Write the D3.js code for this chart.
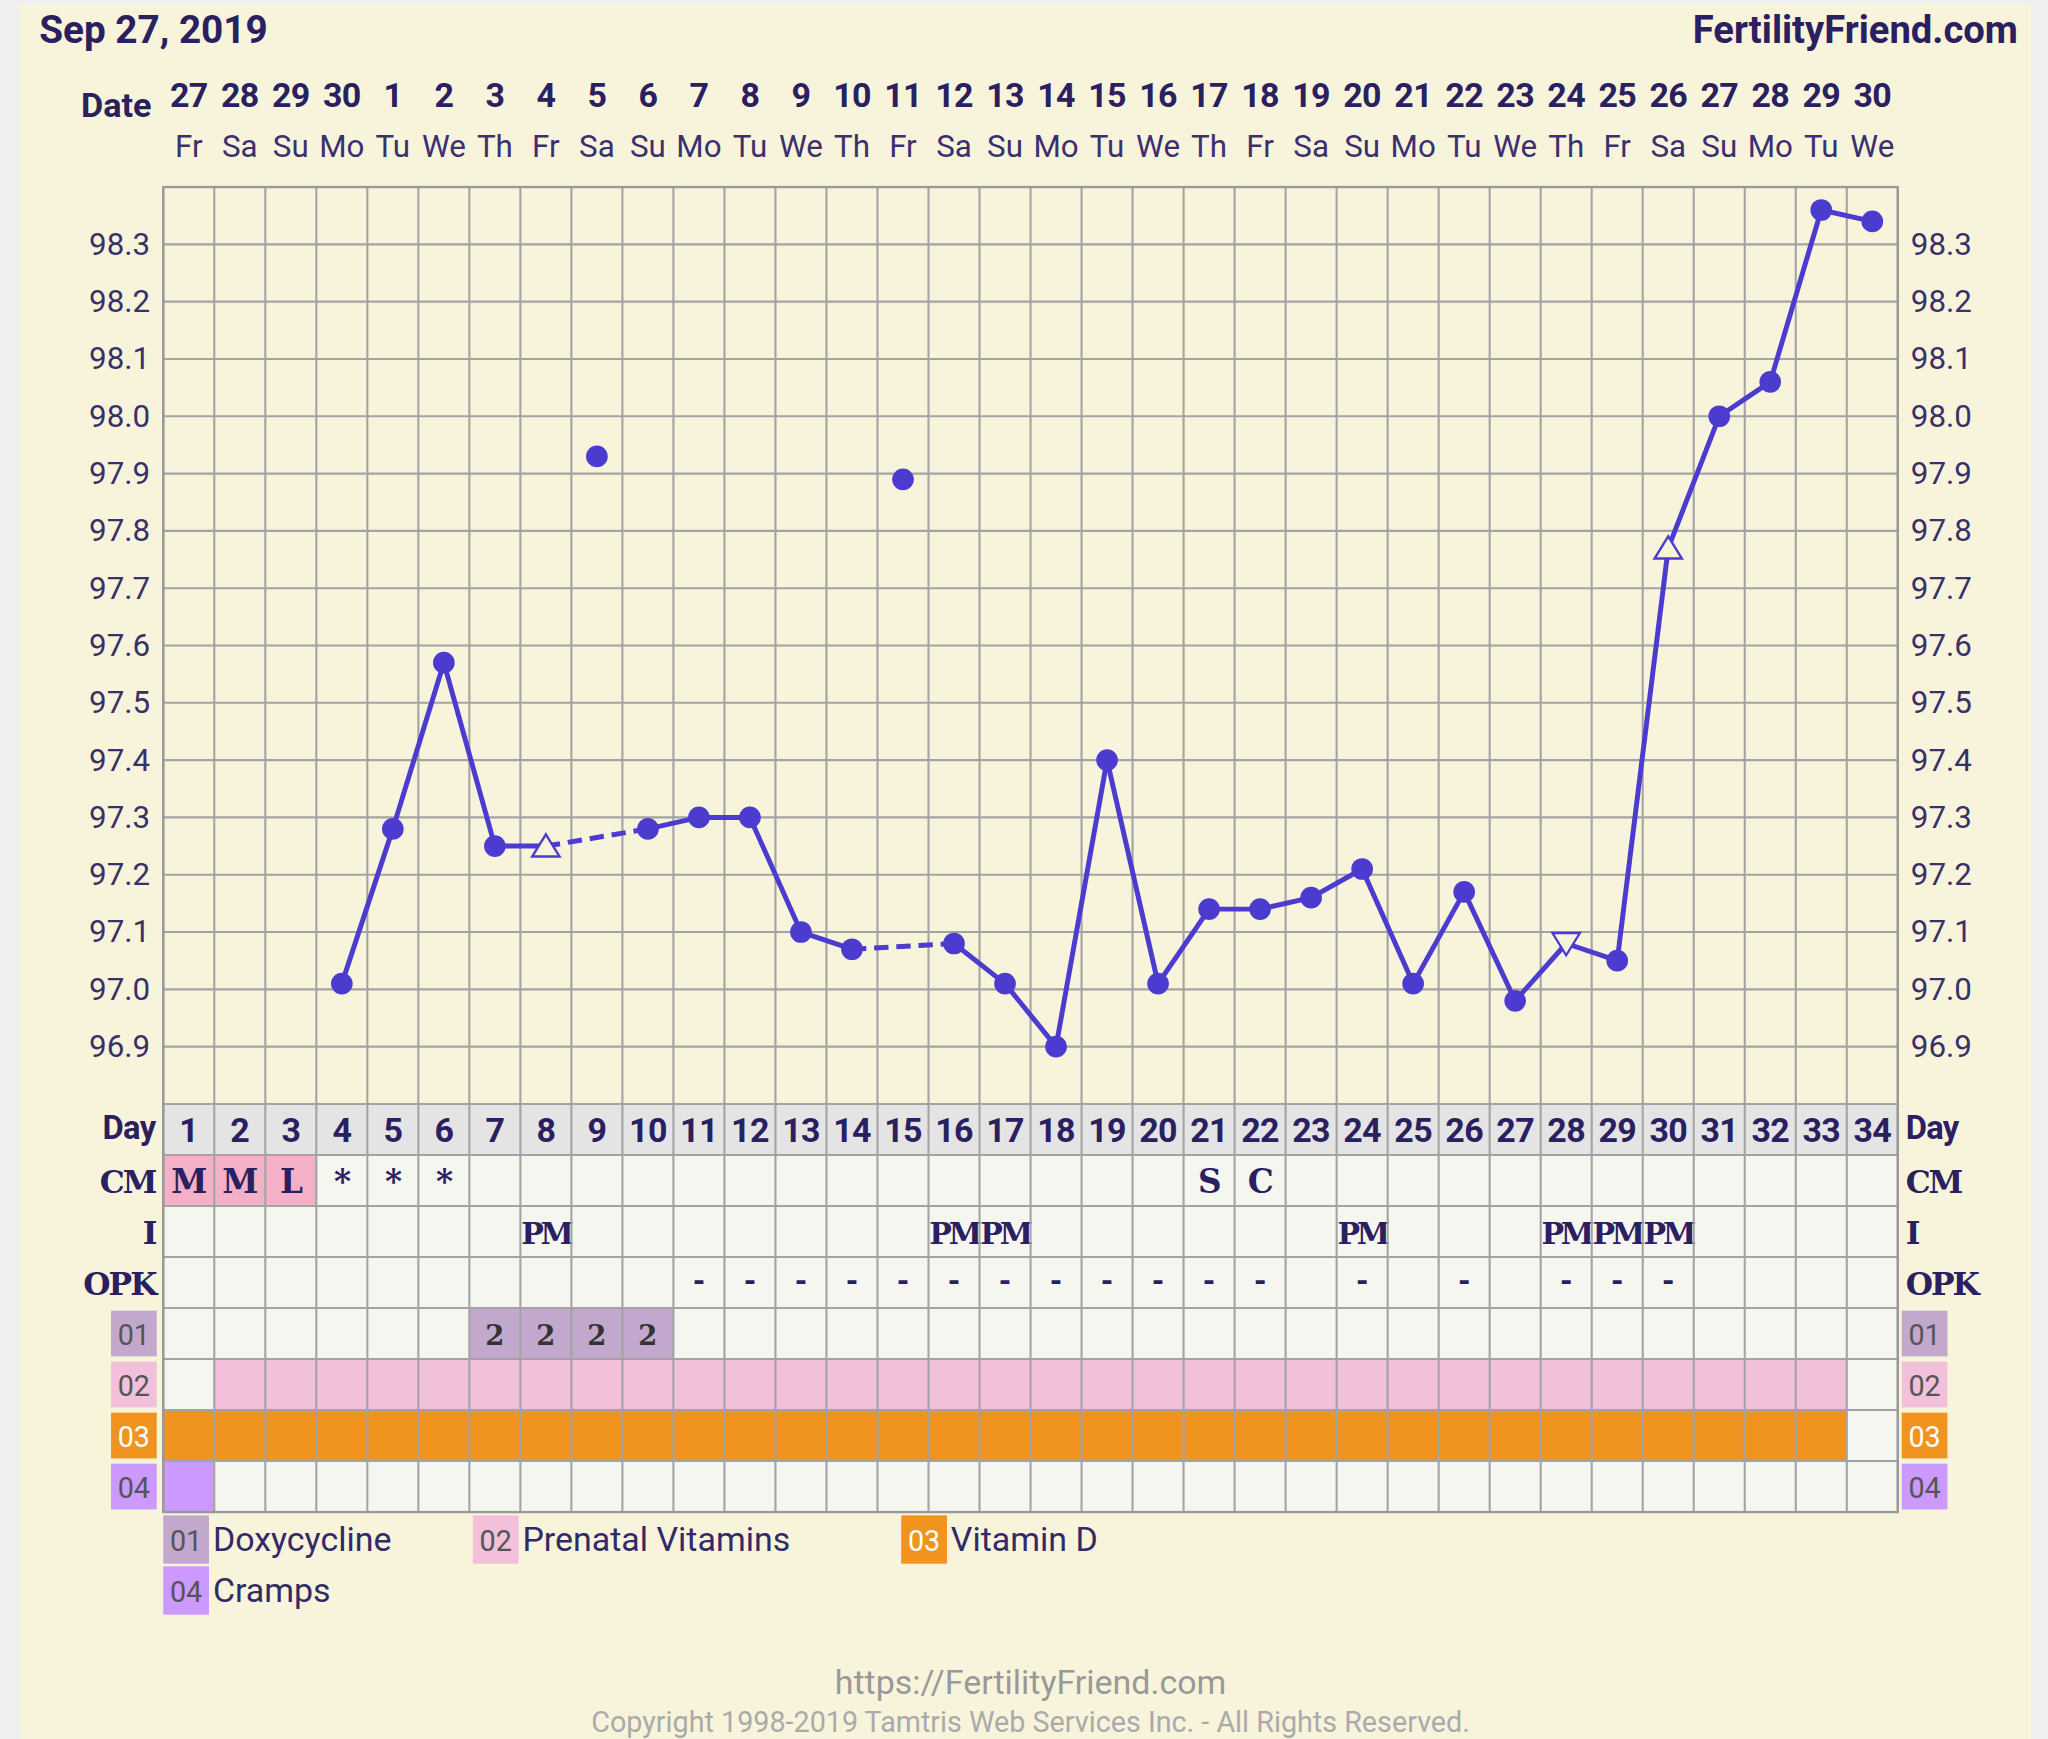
<!DOCTYPE html>
<html>
<head>
<meta charset="utf-8">
<script src="https://cdn.jsdelivr.net/npm/d3@7"></script>
<style>
  html, body { margin: 0; padding: 0; background: #efefef; }
  svg { display: block; }
</style>
</head>
<body>
<script>
// ---------- DATA ----------
const dayNumbers = [1,2,3,4,5,6,7,8,9,10,11,12,13,14,15,16,17,18,19,20,21,22,23,24,25,26,27,28,29,30,31,32,33,34];
const dateLabels = ["27","28","29","30","1","2","3","4","5","6","7","8","9","10","11","12","13","14","15","16","17","18","19","20","21","22","23","24","25","26","27","28","29","30"];
const weekdayLabels = ["Fr","Sa","Su","Mo","Tu","We","Th","Fr","Sa","Su","Mo","Tu","We","Th","Fr","Sa","Su","Mo","Tu","We","Th","Fr","Sa","Su","Mo","Tu","We","Th","Fr","Sa","Su","Mo","Tu","We"];
const temps = [null,null,null,97.01,97.28,97.57,97.25,97.25,97.93,97.28,97.30,97.30,97.10,97.07,97.89,97.08,97.01,96.90,97.40,97.01,97.14,97.14,97.16,97.21,97.01,97.17,96.98,97.08,97.05,97.77,98.00,98.06,98.36,98.34];
// marker type per day: "o" dot, "^" up triangle, "v" down triangle, "x" discarded (unconnected dot)
const markerTypes = ["","","","o","o","o","o","^","x","o","o","o","o","o","x","o","o","o","o","o","o","o","o","o","o","o","o","v","o","^","o","o","o","o"];
const yTickLabels = [96.9,97.0,97.1,97.2,97.3,97.4,97.5,97.6,97.7,97.8,97.9,98.0,98.1,98.2,98.3];
const yDomain = [96.8, 98.4];
const cmRow = ["M","M","L","*","*","*","","","","","","","","","","","","","","","S","C","","","","","","","","","","","",""];
const cmPink = [1,1,1,0,0,0,0,0,0,0,0,0,0,0,0,0,0,0,0,0,0,0,0,0,0,0,0,0,0,0,0,0,0,0];
const iRow = ["","","","","","","","PM","","","","","","","","PM","PM","","","","","","","PM","","","","PM","PM","PM","","","",""];
const opkRow = ["","","","","","","","","","","-","-","-","-","-","-","-","-","-","-","-","-","","-","","-","","-","-","-","","","",""];
const med01 = ["","","","","","","2","2","2","2","","","","","","","","","","","","","","","","","","","","","","","",""];
const med02 = [0,1,1,1,1,1,1,1,1,1,1,1,1,1,1,1,1,1,1,1,1,1,1,1,1,1,1,1,1,1,1,1,1,0];
const med03 = [1,1,1,1,1,1,1,1,1,1,1,1,1,1,1,1,1,1,1,1,1,1,1,1,1,1,1,1,1,1,1,1,1,0];
const med04 = [1,0,0,0,0,0,0,0,0,0,0,0,0,0,0,0,0,0,0,0,0,0,0,0,0,0,0,0,0,0,0,0,0,0];
const legendCodes = ["01","02","03","04"];
const legendNames = ["Doxycycline","Prenatal Vitamins","Vitamin D","Cramps"];
const legendColors = ["#c3a8cd","#f2c0da","#f0931f","#cc99ff"];
const legendTextColors = ["#555","#555","#fff","#555"];
const rowLabels = ["Day","CM","I","OPK"];

// ---------- LAYOUT ----------
const W = 1568, H = 1331;
const navy = "#2a2060";
const lineColor = "#4b3bcf";
const gridColor = "#a3a3a3";
const slab = "'DejaVu Serif', serif";
const sans = "Roboto, 'Noto Sans', sans-serif";

const svg = d3.select("body").append("svg")
  .attr("width", 2048).attr("height", 1739)
  .attr("viewBox", `0 0 ${W} ${H}`);

svg.append("rect").attr("x", 0).attr("y", 0).attr("width", W).attr("height", H).attr("fill", "#efefef");
svg.append("rect").attr("x", 15).attr("y", 3).attr("width", 1540).attr("height", H - 3).attr("fill", "#f8f4dc");

const x = d3.scaleBand().domain(dayNumbers).range([125, 1453]).padding(0);
const cx = d => x(d) + x.bandwidth() / 2;
const y = d3.scaleLinear().domain(yDomain).range([845, 143]);
const rowH = x.bandwidth();
const rowTop = i => 845 + i * rowH; // 0 Day, 1 CM, 2 I, 3 OPK, 4..7 meds

// Title
svg.append("text").attr("x", 30).attr("y", 33).text("Sep 27, 2019")
  .attr("font-family", sans).attr("font-weight", 700).attr("font-size", 30)
  .attr("fill", navy).attr("textLength", 175).attr("lengthAdjust", "spacingAndGlyphs");
svg.append("text").attr("x", 1296).attr("y", 33).text("FertilityFriend.com")
  .attr("font-family", sans).attr("font-weight", 700).attr("font-size", 30)
  .attr("fill", navy).attr("textLength", 249).attr("lengthAdjust", "spacingAndGlyphs");

// Date header
svg.append("text").attr("x", 116).attr("y", 89).attr("text-anchor", "end").text("Date")
  .attr("font-family", sans).attr("font-weight", 700).attr("font-size", 25).attr("fill", navy)
  .attr("textLength", 54).attr("lengthAdjust", "spacingAndGlyphs");
svg.append("g").selectAll("text").data(dayNumbers).join("text")
  .attr("x", d => cx(d)).attr("y", 82).attr("text-anchor", "middle")
  .text((d, i) => dateLabels[i])
  .attr("font-family", sans).attr("font-weight", 700).attr("font-size", 26).attr("fill", navy)
  .attr("letter-spacing", -0.5);
svg.append("g").selectAll("text").data(dayNumbers).join("text")
  .attr("x", d => cx(d)).attr("y", 120).attr("text-anchor", "middle")
  .text((d, i) => weekdayLabels[i])
  .attr("font-family", sans).attr("font-size", 24).attr("fill", "#3a3070");

// Temperature grid
const grid = svg.append("g");
grid.selectAll("line.h").data(d3.range(yDomain[0], yDomain[1] + 0.0001, 0.1)).join("line")
  .attr("x1", 125).attr("x2", 1453).attr("y1", d => y(d)).attr("y2", d => y(d))
  .attr("stroke", gridColor).attr("stroke-width", 1.6);

// y labels
const yl = svg.append("g");
yl.selectAll("text.l").data(yTickLabels).join("text")
  .attr("x", 115).attr("y", d => y(d) + 8).attr("text-anchor", "end")
  .text(d => d.toFixed(1))
  .attr("font-family", sans).attr("font-size", 24).attr("fill", "#383068");
yl.selectAll("text.r").data(yTickLabels).join("text")
  .attr("x", 1463).attr("y", d => y(d) + 8).attr("text-anchor", "start")
  .text(d => d.toFixed(1))
  .attr("font-family", sans).attr("font-size", 24).attr("fill", "#383068");

// Bottom rows
const rows = svg.append("g");
function cellRow(rowIdx, fillFn) {
  rows.append("g").selectAll("rect").data(dayNumbers).join("rect")
    .attr("x", d => x(d)).attr("y", rowTop(rowIdx)).attr("width", rowH).attr("height", rowH)
    .attr("fill", (d, i) => fillFn(i));
}
cellRow(0, () => "#e4e4e4");
cellRow(1, i => cmPink[i] ? "#f4b0c6" : "#f6f6f0");
cellRow(2, () => "#f6f6f0");
cellRow(3, () => "#f6f6f0");
cellRow(4, i => med01[i] ? legendColors[0] : "#f6f6f0");
cellRow(5, i => med02[i] ? legendColors[1] : "#f6f6f0");
cellRow(6, i => med03[i] ? legendColors[2] : "#f6f6f0");
cellRow(7, i => med04[i] ? legendColors[3] : "#f6f6f0");

// horizontal lines of rows
rows.selectAll("line.rh").data(d3.range(0, 9)).join("line")
  .attr("x1", 125).attr("x2", 1453).attr("y1", i => rowTop(i)).attr("y2", i => rowTop(i))
  .attr("stroke", gridColor).attr("stroke-width", 1.6);

// vertical grid lines through everything
svg.append("g").selectAll("line").data(d3.range(0, 35)).join("line")
  .attr("x1", i => 125 + i * rowH).attr("x2", i => 125 + i * rowH)
  .attr("y1", 143).attr("y2", rowTop(8))
  .attr("stroke", gridColor).attr("stroke-width", 1.6);

// outer border
svg.append("rect").attr("x", 125).attr("y", 143).attr("width", 1453 - 125).attr("height", rowTop(8) - 143)
  .attr("fill", "none").attr("stroke", "#999").attr("stroke-width", 1.8);

// Day numbers
rows.append("g").selectAll("text").data(dayNumbers).join("text")
  .attr("x", d => cx(d)).attr("y", rowTop(0) + 29).attr("text-anchor", "middle")
  .text(d => d).attr("font-family", sans).attr("font-weight", 700).attr("font-size", 26)
  .attr("fill", navy).attr("letter-spacing", -0.5);

// Row labels left/right
const labelFonts = [sans, slab, slab, slab];
rowLabels.forEach((lab, r) => {
  const common = s => s.text(lab).attr("font-family", labelFonts[r]).attr("font-weight", 700)
    .attr("font-size", r === 0 ? 25 : 24).attr("fill", navy);
  const yy = rowTop(r) + (r === 0 ? 27 : 29);
  common(svg.append("text").attr("x", 119).attr("y", yy).attr("text-anchor", "end"))
    .attr("letter-spacing", r === 0 ? -0.5 : -1.5);
  common(svg.append("text").attr("x", 1459).attr("y", yy).attr("text-anchor", "start"))
    .attr("letter-spacing", r === 0 ? -0.5 : -1.5);
});

// CM / I / OPK text
function textRow(rowIdx, arr, size, dy, ls) {
  rows.append("g").selectAll("text").data(dayNumbers).join("text")
    .attr("x", d => cx(d)).attr("y", rowTop(rowIdx) + dy).attr("text-anchor", "middle")
    .text((d, i) => arr[i]).attr("font-family", slab).attr("font-weight", 700)
    .attr("font-size", size).attr("fill", navy).attr("letter-spacing", ls);
}
textRow(1, cmRow, 25, 29, -1);
textRow(2, iRow, 23, 29, -2.5);
textRow(3, opkRow, 22, 25, 0);

// med01 numbers
rows.append("g").selectAll("text").data(dayNumbers).join("text")
  .attr("x", d => cx(d)).attr("y", rowTop(4) + 28).attr("text-anchor", "middle")
  .text((d, i) => med01[i]).attr("font-family", slab).attr("font-weight", 700)
  .attr("font-size", 21).attr("fill", "#333");

// side med label boxes
legendCodes.forEach((code, k) => {
  const top = rowTop(4 + k) + 2;
  [85, 1456].forEach(bx => {
    svg.append("rect").attr("x", bx).attr("y", top).attr("width", 35).attr("height", rowH - 4)
      .attr("fill", legendColors[k]);
    svg.append("text").attr("x", bx + 17.5).attr("y", top + 26).attr("text-anchor", "middle")
      .text(code).attr("font-family", sans).attr("font-size", 22).attr("fill", legendTextColors[k]);
  });
});

// Temperature line
const pts = dayNumbers.map((d, i) => ({ d, t: temps[i], m: markerTypes[i] }))
  .filter(p => p.t !== null);
const connected = pts.filter(p => p.m !== "x");
const lineG = svg.append("g");
for (let k = 1; k < connected.length; k++) {
  const a = connected[k - 1], b = connected[k];
  lineG.append("line")
    .attr("x1", cx(a.d)).attr("y1", y(a.t)).attr("x2", cx(b.d)).attr("y2", y(b.t))
    .attr("stroke", lineColor).attr("stroke-width", 3.8)
    .attr("stroke-dasharray", b.d - a.d > 1 ? "11,6" : null);
}
const mk = svg.append("g");
mk.selectAll("circle").data(pts.filter(p => p.m === "o" || p.m === "x")).join("circle")
  .attr("cx", p => cx(p.d)).attr("cy", p => y(p.t)).attr("r", 8.3).attr("fill", lineColor);
mk.selectAll("path").data(pts.filter(p => p.m === "^" || p.m === "v")).join("path")
  .attr("d", p => {
    const X = cx(p.d), Y = y(p.t), hw = 10.5, up = 9, dn = 8;
    return p.m === "^"
      ? `M${X},${Y - up} L${X + hw},${Y + dn} L${X - hw},${Y + dn} Z`
      : `M${X},${Y + up} L${X + hw},${Y - dn} L${X - hw},${Y - dn} Z`;
  })
  .attr("fill", "#f8f4dc").attr("stroke", lineColor).attr("stroke-width", 1.8);

// Legend
const legendPos = [[125, 1160], [362, 1160], [690, 1160], [125, 1199]];
legendCodes.forEach((code, k) => {
  const [lx, ly] = legendPos[k];
  svg.append("rect").attr("x", lx).attr("y", ly).attr("width", 35).attr("height", 37).attr("fill", legendColors[k]);
  svg.append("text").attr("x", lx + 17.5).attr("y", ly + 27).attr("text-anchor", "middle")
    .text(code).attr("font-family", sans).attr("font-size", 22).attr("fill", legendTextColors[k]);
  svg.append("text").attr("x", lx + 38).attr("y", ly + 27).text(legendNames[k])
    .attr("font-family", sans).attr("font-size", 26).attr("fill", "#322a66");
});

// Footer
svg.append("text").attr("x", 789).attr("y", 1297).attr("text-anchor", "middle")
  .text("https://FertilityFriend.com").attr("font-family", sans).attr("font-size", 26).attr("fill", "#999");
svg.append("text").attr("x", 789).attr("y", 1326).attr("text-anchor", "middle")
  .text("Copyright 1998-2019 Tamtris Web Services Inc. - All Rights Reserved.")
  .attr("font-family", sans).attr("font-size", 22).attr("fill", "#aaa");
</script>
</body>
</html>
